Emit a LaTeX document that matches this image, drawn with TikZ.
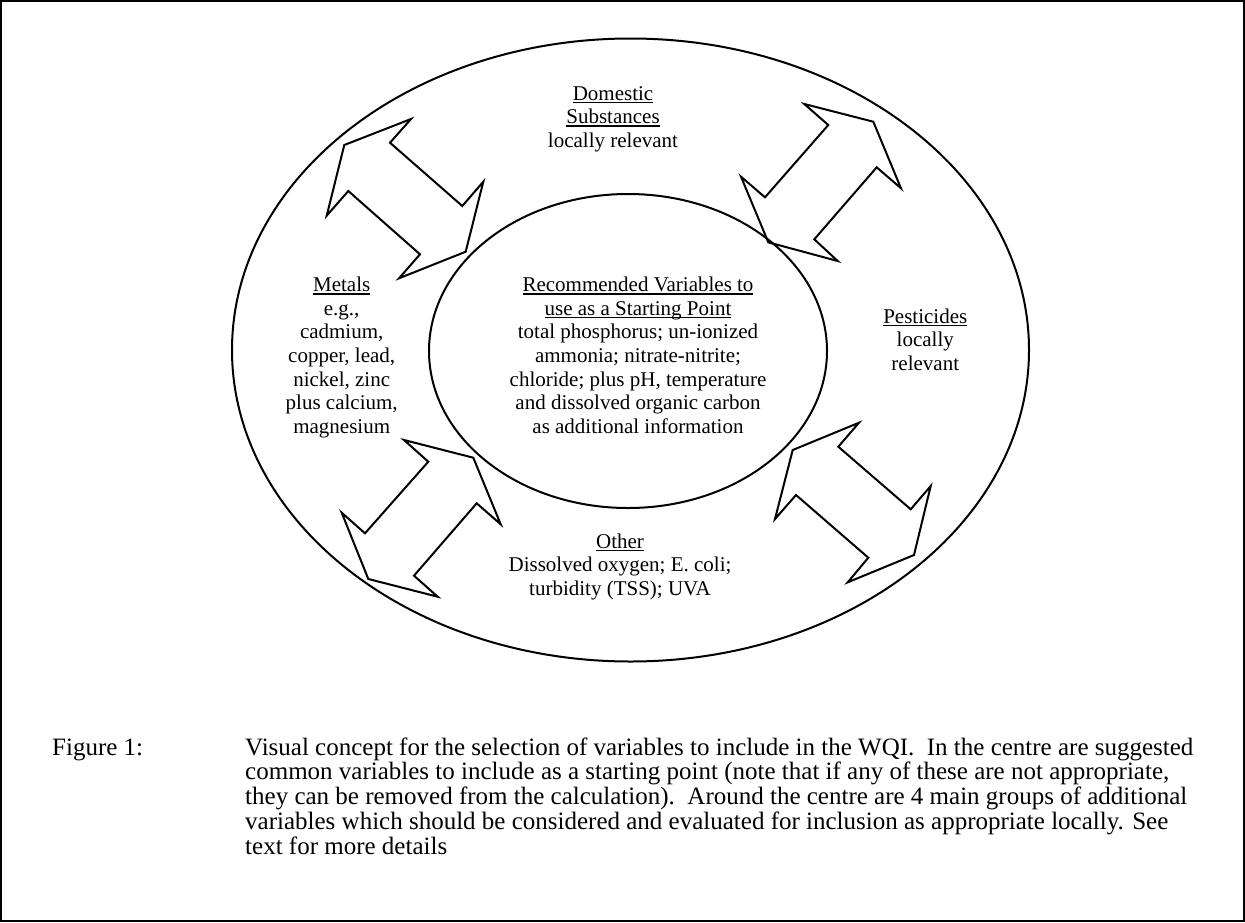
\documentclass[tikz,border=0pt]{standalone}
\usepackage{fontspec}
\setmainfont{Liberation Serif}
\usetikzlibrary{shapes.geometric}
\newcommand\myul[1]{\leavevmode\setbox0\hbox{#1}\rlap{\rule[-3pt]{\wd0}{1.4pt}}\box0}
\tikzset{
  lbl/.style={anchor=base, inner sep=0pt, font=\fontsize{21}{23.6}\selectfont},
  caplbl/.style={anchor=base west, inner sep=0pt, font=\fontsize{25}{24}\selectfont},
  ring/.style={ellipse, draw, line width=2pt, inner sep=0pt},
  dblarrow/.style={draw, line width=2pt, line join=miter}
}
\begin{document}
\begin{tikzpicture}[x=1pt,y=-1pt]
\useasboundingbox (0,0) rectangle (1245,922);
\draw[line width=1.8pt] (1,1) rectangle (1244,921);
% ellipses
\node[ring, minimum width=797pt, minimum height=623pt] (outer) at (630.5,350) {};
\node[ring, minimum width=398pt, minimum height=314pt] (inner) at (628,351) {};
% arrows
\draw[dblarrow] (344.3,145) -- (411,119) -- (390,142.7) -- (462.3,206) -- (483.3,181.7) -- (465.7,251.7) -- (399,278.3) -- (420,254.3) -- (348.3,191) -- (326.7,215.7) -- cycle;
\draw[dblarrow] (804.3,104) -- (828.3,125) -- (765,197.3) -- (741,176.7) -- (768.3,242.3) -- (837.7,261) -- (814.3,239.3) -- (876.7,167.3) -- (901,188.3) -- (873.3,121.7) -- cycle;
\draw[dblarrow] (404,440) -- (428.3,461.7) -- (365,533.3) -- (341.7,512.7) -- (368.3,579) -- (437.7,596.7) -- (414,575.7) -- (476.7,503.3) -- (500.7,524.3) -- (473.3,457.7) -- cycle;
\draw[dblarrow] (859,422.7) -- (838.3,446.7) -- (910.7,509.3) -- (930.7,486) -- (914,555) -- (847.7,582.3) -- (868.3,557.7) -- (796,495) -- (775,519) -- (792.7,450) -- cycle;
% texts
\node[lbl] (dom) at (613,100) {\begin{tabular}[t]{@{}c@{}}\myul{Domestic}\\ \myul{Substances}\\ locally relevant\end{tabular}};
\node[lbl] (met) at (341.7,291.7) {\begin{tabular}[t]{@{}c@{}}\myul{Metals}\\ e.g.,\\ cadmium,\\ copper, lead,\\ nickel, zinc\\ plus calcium,\\ magnesium\end{tabular}};
\node[lbl] (rec) at (638,291.7) {\begin{tabular}[t]{@{}c@{}}\myul{Recommended Variables to}\\ \myul{use as a Starting Point}\\ total phosphorus; un-ionized\\ ammonia; nitrate-nitrite;\\ chloride; plus pH, temperature\\ and dissolved organic carbon\\ as additional information\end{tabular}};
\node[lbl] (pest) at (925.3,323.3) {\begin{tabular}[t]{@{}c@{}}\myul{Pesticides}\\ locally\\ relevant\end{tabular}};
\node[lbl] (oth) at (620,548) {\begin{tabular}[t]{@{}c@{}}\myul{Other}\\ Dissolved oxygen; E. coli;\\ turbidity (TSS); UVA\end{tabular}};
% caption
\node[caplbl] (fig) at (52,755) {Figure 1:};
\node[caplbl] (cap) at (245,755) {\begin{tabular}[t]{@{}l@{}}Visual concept for the selection of variables to include in the WQI.\ \ In the centre are suggested\\ common variables to include as a starting point (note that if any of these are not appropriate,\\ they can be removed from the calculation).\ \ Around the centre are 4 main groups of additional\\ variables which should be considered and evaluated for inclusion as appropriate locally. See\\ text for more details\end{tabular}};
\end{tikzpicture}
\end{document}
